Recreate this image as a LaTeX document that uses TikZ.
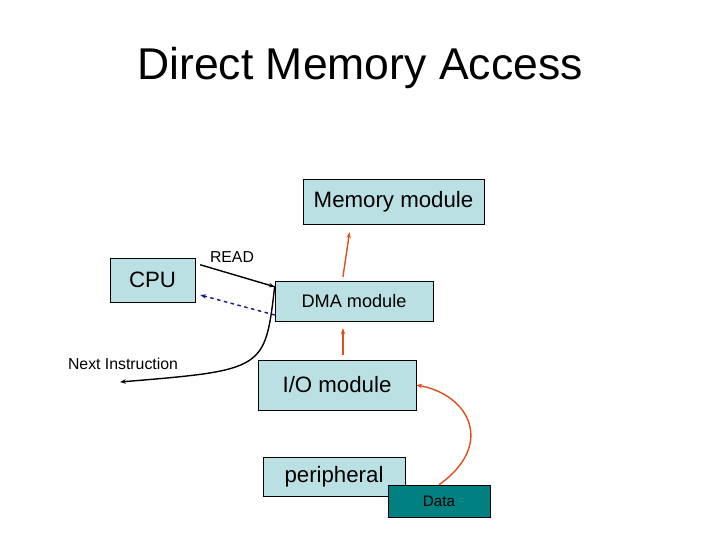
\documentclass[tikz,border=0pt]{standalone}
\usepackage{fontspec}
\setmainfont{Liberation Sans}
\usetikzlibrary{arrows.meta, positioning}
\definecolor{boxblue}{RGB}{187, 224, 228}
\definecolor{datateal}{RGB}{0, 128, 128}
\definecolor{flowred}{RGB}{220, 80, 30}
\definecolor{ackblue}{RGB}{20, 20, 140}

\begin{document}
\begin{tikzpicture}[
    x=0.03cm, y=-0.03cm,
    box/.style={draw, fill=boxblue, inner sep=0pt, font=\fontsize{19}{21}\selectfont},
    arrow/.style={-{Stealth[length=5pt]}, line width=1.2pt},
  ]
    \useasboundingbox (0,0) rectangle (720,540);

    % Title
    \node[font=\fontsize{38}{41}\selectfont] (title) at (360,68) {Direct Memory Access};

    % Modules
    \node[box, minimum width=181*0.03cm, minimum height=45*0.03cm]
      (mem) at (393.5,201.5) {Memory module};
    \node[box, minimum width=85*0.03cm, minimum height=44*0.03cm]
      (cpu) at (152.5,280) {CPU};
    \node[box, minimum width=158*0.03cm, minimum height=40*0.03cm,
          font=\fontsize{15.5}{18}\selectfont]
      (dma) at (354,301) {DMA module};
    \node[box, minimum width=158*0.03cm, minimum height=50*0.03cm]
      (io) at (337,385) {I/O module};
    \node[box, minimum width=142*0.03cm, minimum height=39*0.03cm]
      (peri) at (334,476.5) {peripheral};
    \node[draw, fill=datateal, inner sep=0pt, minimum width=102*0.03cm,
          minimum height=32*0.03cm, font=\fontsize{13}{15}\selectfont]
      (data) at (439,501) {Data};

    % Labels
    \node[font=\fontsize{13.5}{15}\selectfont] (read) at (232,257) {READ};
    \node[font=\fontsize{13.5}{15}\selectfont] (next) at (123,364) {Next Instruction};
    \coordinate (nextend) at (120,382);

    % Arrows
    \draw[arrow] (cpu.north east) ++(5,7) -- ([yshift=-6*0.03cm]dma.north west);
    \draw[arrow, ackblue, dashed] ([yshift=-14*0.03cm]dma.west) -- ([xshift=5*0.03cm,yshift=-15*0.03cm]cpu.east);
    \draw[arrow] ([yshift=-5*0.03cm]dma.north west) .. controls (265,370) .. (nextend);
    \draw[arrow, flowred] ([xshift=-11*0.03cm,yshift=4*0.03cm]dma.north) -- ([xshift=-44*0.03cm,yshift=-8*0.03cm]mem.south);
    \draw[arrow, flowred] ([xshift=6*0.03cm,yshift=5*0.03cm]io.north) -- ([xshift=-11*0.03cm,yshift=-7*0.03cm]dma.south);
    \draw[arrow, flowred] (data.north) .. controls (495,445) and (470,395) .. (io.east);
  \end{tikzpicture}
\end{document}
